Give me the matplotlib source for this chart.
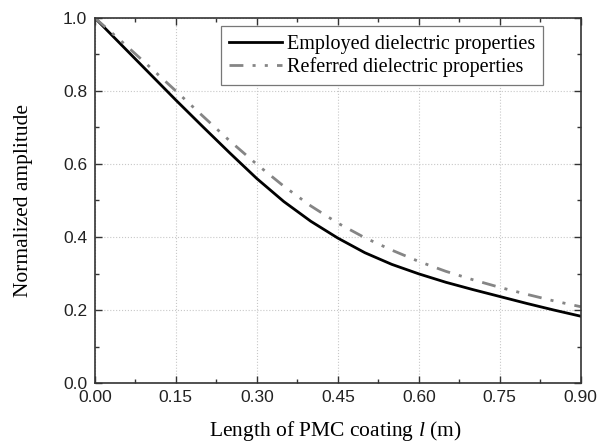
import matplotlib
matplotlib.use("Agg")
from matplotlib import pyplot as plt
from matplotlib.ticker import MultipleLocator
import numpy as np

# values
length = [0.0, 0.05, 0.10, 0.15, 0.20, 0.25, 0.30, 0.35, 0.40, 0.45,
          0.50, 0.55, 0.60, 0.65, 0.70, 0.75, 0.80, 0.85, 0.90]
employed = [1.0, 0.925, 0.850, 0.775, 0.702, 0.630, 0.560, 0.497, 0.443, 0.397,
            0.357, 0.325, 0.299, 0.276, 0.256, 0.237, 0.218, 0.200, 0.183]
referred = [1.0, 0.935, 0.868, 0.800, 0.731, 0.663, 0.599, 0.539, 0.485, 0.438,
            0.398, 0.364, 0.333, 0.306, 0.283, 0.262, 0.243, 0.225, 0.209]

serif = "Liberation Serif"
sans = "Liberation Sans"
plt.rcParams["mathtext.fontset"] = "custom"
plt.rcParams["mathtext.rm"] = serif
plt.rcParams["mathtext.it"] = serif + ":italic"

fig = plt.figure(figsize=(6.12, 4.48), dpi=100)
ax = fig.add_axes([0.155, 0.145, 0.794, 0.815])

ax.plot(length, employed, color="black", lw=2.0, label="Employed dielectric properties")
ax.plot(length, referred, color="#858585", lw=2.0,
        linestyle=(0, (5.0, 3.3, 1.1, 3.3, 1.1, 3.3)),
        label="Referred dielectric properties")

ax.set_xlim(0, 0.9)
ax.set_ylim(0, 1.0)
ax.xaxis.set_major_locator(MultipleLocator(0.15))
ax.xaxis.set_minor_locator(MultipleLocator(0.075))
ax.yaxis.set_major_locator(MultipleLocator(0.2))
ax.yaxis.set_minor_locator(MultipleLocator(0.1))
ax.set_xticklabels([f"{v:.2f}" for v in ax.get_xticks()])
ax.set_yticklabels([f"{v:.1f}" for v in ax.get_yticks()])

ax.tick_params(which="both", direction="in", top=True, right=True, width=1.0, color="#333333")
ax.tick_params(which="major", length=5, labelsize=12.5)
ax.tick_params(axis="x", which="major", pad=5)
ax.tick_params(axis="y", which="major", pad=5.5)
ax.tick_params(which="minor", length=3)
for lab in ax.get_xticklabels() + ax.get_yticklabels():
    lab.set_fontfamily(sans)
    lab.set_color("#222222")

for s in ax.spines.values():
    s.set_linewidth(1.2)
    s.set_color("#333333")

ax.grid(True, which="major", color="#c8c8c8", linestyle=":", linewidth=0.8)

ax.set_xlabel("Length of PMC coating $\\mathit{l}$ (m)", fontfamily=serif, fontsize=15.5)
ax.set_ylabel("Normalized amplitude", fontfamily=serif, fontsize=15.5)
ax.xaxis.set_label_coords(0.495, -0.098)
ax.yaxis.set_label_coords(-0.128, 0.501)

leg = ax.legend(loc="upper left", bbox_to_anchor=(0.259, 0.977), fancybox=False,
                framealpha=1, edgecolor="#777777", handlelength=2.6,
                prop={"family": serif, "size": 14.5}, borderpad=0.42,
                labelspacing=0.15, handletextpad=0.25, borderaxespad=0)
leg.get_frame().set_linewidth(0.9)

fig.savefig("out.png", dpi=100)
